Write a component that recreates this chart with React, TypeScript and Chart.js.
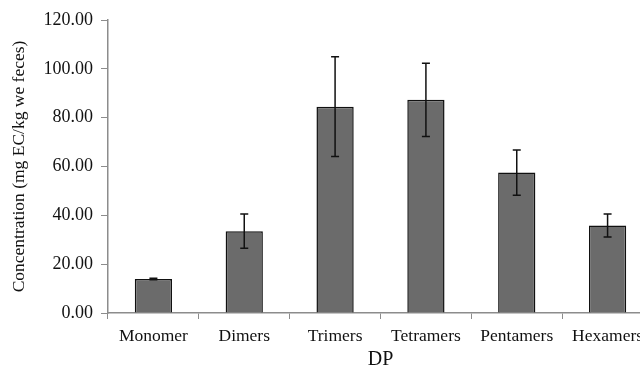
import React, { useEffect, useRef } from "react";
import { Chart, registerables } from "chart.js";

Chart.register(...registerables);

const categories = ["Monomer", "Dimers", "Trimers", "Tetramers", "Pentamers", "Hexamers"];
const means = [13.9, 33.5, 84.5, 87.3, 57.5, 35.8];
const errors = [0.3, 7.0, 20.4, 15.0, 9.3, 4.7];
const yMin = 0;
const yMax = 120;
const yStep = 20;
const xTitle = "DP";
const yTitle = "Concentration (mg EC/kg we feces)";

const FONT = "'Liberation Serif', 'Times New Roman', serif";

const errorBarPlugin = {
  id: "errorBars",
  afterDatasetsDraw(chart: any) {
    const ctx = chart.ctx;
    const meta = chart.getDatasetMeta(0);
    const yScale = chart.scales.y;
    ctx.save();
    ctx.strokeStyle = "#111";
    ctx.lineWidth = 1.5;
    meta.data.forEach((bar: any, i: number) => {
      const x = bar.x;
      const top = yScale.getPixelForValue(means[i] + errors[i]);
      const bot = yScale.getPixelForValue(means[i] - errors[i]);
      const cap = 4;
      ctx.beginPath();
      ctx.moveTo(x, top);
      ctx.lineTo(x, bot);
      ctx.moveTo(x - cap, top);
      ctx.lineTo(x + cap, top);
      ctx.moveTo(x - cap, bot);
      ctx.lineTo(x + cap, bot);
      ctx.stroke();
    });
    ctx.restore();
  },
};

export default function App() {
  const ref = useRef<HTMLCanvasElement>(null);
  useEffect(() => {
    if (!ref.current) return;
    const chart = new Chart(ref.current, {
      type: "bar",
      data: {
        labels: categories,
        datasets: [
          {
            data: means,
            backgroundColor: "#6b6b6b",
            borderColor: "#111",
            borderWidth: 1.5,
            categoryPercentage: 1,
            barPercentage: 0.41,
          },
        ],
      },
      options: {
        animation: false,
        responsive: false,
        layout: { padding: { top: 20, right: 27, left: 0, bottom: 0 } },
        plugins: { legend: { display: false }, tooltip: { enabled: false } },
        scales: {
          x: {
            grid: {
              drawOnChartArea: false,
              drawTicks: true,
              tickLength: 6,
              color: "#8c8c8c",
              lineWidth: 1,
            },
            border: { color: "#8c8c8c", width: 1.5 },
            ticks: {
              color: "#111",
              font: { family: FONT, size: 17.5 },
              padding: 7,
              maxRotation: 0,
              autoSkip: false,
            },
            title: {
              display: true,
              text: xTitle,
              color: "#111",
              font: { family: FONT, size: 20 },
              padding: { top: 0, bottom: 0 },
            },
            afterFit(scale: any) {
              scale.height = 59;
            },
          },
          y: {
            min: yMin,
            max: yMax,
            grid: {
              drawOnChartArea: false,
              drawTicks: true,
              tickLength: 7,
              color: "#8c8c8c",
              lineWidth: 1,
            },
            border: { color: "#8c8c8c", width: 1.5 },
            ticks: {
              stepSize: yStep,
              color: "#111",
              font: { family: FONT, size: 18 },
              padding: 8,
              callback: (v: any) => Number(v).toFixed(2),
            },
            title: {
              display: true,
              text: yTitle,
              color: "#111",
              font: { family: FONT, size: 17.5 },
              padding: { top: 9, bottom: 0 },
            },
            afterFit(scale: any) {
              scale.width = 108;
            },
          },
        },
      },
      plugins: [errorBarPlugin],
    });
    return () => chart.destroy();
  }, []);
  return (
    <div
      style={{
        position: "fixed",
        left: 0,
        top: 0,
        width: 640,
        height: 368,
        overflow: "hidden",
        background: "#fff",
      }}
    >
      <canvas ref={ref} width={680} height={372} style={{ width: 680, height: 372, display: "block" }} />
    </div>
  );
}
